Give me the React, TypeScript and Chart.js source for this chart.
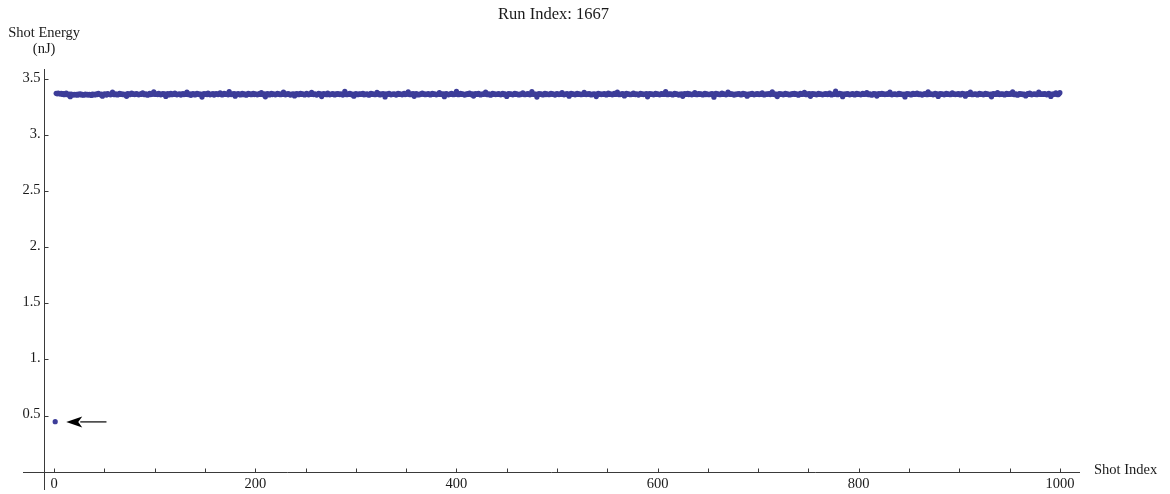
import React, { useEffect, useRef } from "react";
import { Chart, registerables } from "chart.js";

Chart.register(...registerables);

// ---------- chart text ----------
const chartTitle = "Run Index: 1667";
const xAxisTitle = "Shot Index";
const yAxisTitleLines = ["Shot Energy", "(nJ)"];

// ---------- ticks ----------
const xMajorTicks = [0, 200, 400, 600, 800, 1000];
const xMajorTickLabels = ["0", "200", "400", "600", "800", "1000"];
const xMinorTicks = [
  50, 100, 150, 250, 300, 350, 450, 500, 550, 650, 700, 750, 850, 900, 950,
];
const yTicks = [0.5, 1, 1.5, 2, 2.5, 3, 3.5];
const yTickLabels = ["0.5", "1.", "1.5", "2.", "2.5", "3.", "3.5"];

// ---------- axis ranges ----------
const xRange = [-31, 1020];
const yRange = [-0.164, 3.589];
const yAxisCrossesAtX = -10;
const xAxisCrossesAtY = 0;

// ---------- annotation arrow (data coordinates) ----------
const arrowTail = [52, 0.443];
const arrowTip = [12, 0.443];

// ---------- data: shot energy (nJ) for shots 1..1000 ----------
const shotEnergy = [
  0.445,
  3.372,3.368,3.375,3.370,3.366,3.371,3.363,3.369,3.360,3.367,3.374,3.362,3.358,3.365,3.342,3.366,3.361,3.357,3.364,3.359,
  3.362,3.356,3.365,3.361,3.367,3.358,3.363,3.355,3.360,3.366,3.359,3.363,3.357,3.364,3.361,3.353,3.366,3.362,3.358,3.365,
  3.360,3.367,3.372,3.364,3.359,3.366,3.347,3.361,3.368,3.363,3.357,3.370,3.365,3.362,3.359,3.366,3.383,3.363,3.360,3.367,
  3.364,3.358,3.365,3.371,3.362,3.368,3.361,3.366,3.359,3.364,3.345,3.369,3.365,3.360,3.367,3.374,3.363,3.368,3.361,3.366,
  3.370,3.364,3.359,3.366,3.362,3.369,3.377,3.365,3.360,3.367,3.363,3.356,3.366,3.372,3.361,3.368,3.364,3.386,3.366,3.362,
  3.368,3.361,3.373,3.366,3.359,3.364,3.370,3.362,3.367,3.344,3.363,3.369,3.358,3.365,3.371,3.360,3.366,3.362,3.375,3.364,
  3.359,3.366,3.363,3.368,3.357,3.364,3.370,3.361,3.367,3.362,3.382,3.365,3.360,3.367,3.354,3.363,3.369,3.365,3.358,3.366,
  3.372,3.363,3.368,3.360,3.366,3.339,3.364,3.370,3.362,3.367,3.361,3.374,3.365,3.359,3.366,3.363,3.369,3.357,3.364,3.370,
  3.365,3.361,3.367,3.376,3.363,3.358,3.366,3.371,3.362,3.368,3.364,3.359,3.387,3.366,3.361,3.368,3.363,3.370,3.346,3.365,
  3.362,3.369,3.364,3.358,3.366,3.372,3.360,3.367,3.363,3.356,3.365,3.371,3.362,3.368,3.360,3.366,3.373,3.361,3.367,3.364,
  3.359,3.365,3.370,3.362,3.378,3.364,3.360,3.367,3.341,3.363,3.369,3.365,3.358,3.366,3.372,3.361,3.368,3.364,3.359,3.366,
  3.371,3.363,3.368,3.360,3.366,3.362,3.384,3.365,3.359,3.367,3.363,3.370,3.361,3.357,3.366,3.362,3.368,3.349,3.364,3.369,
  3.365,3.360,3.367,3.373,3.362,3.368,3.364,3.358,3.366,3.371,3.363,3.359,3.367,3.362,3.380,3.365,3.361,3.368,3.363,3.357,
  3.366,3.372,3.361,3.367,3.343,3.364,3.369,3.362,3.366,3.360,3.375,3.364,3.359,3.366,3.362,3.369,3.364,3.358,3.367,3.363,
  3.370,3.365,3.361,3.368,3.363,3.357,3.366,3.390,3.364,3.360,3.367,3.362,3.372,3.365,3.359,3.366,3.347,3.363,3.369,3.364,
  3.360,3.367,3.362,3.368,3.364,3.371,3.359,3.365,3.361,3.368,3.363,3.356,3.366,3.373,3.362,3.367,3.364,3.360,3.366,3.381,
  3.363,3.369,3.358,3.365,3.362,3.370,3.364,3.340,3.367,3.361,3.366,3.373,3.363,3.359,3.366,3.362,3.368,3.364,3.357,3.365,
  3.371,3.362,3.367,3.363,3.359,3.366,3.372,3.361,3.368,3.364,3.385,3.365,3.360,3.367,3.362,3.369,3.345,3.364,3.370,3.363,
  3.358,3.366,3.361,3.368,3.374,3.363,3.367,3.360,3.365,3.362,3.369,3.364,3.358,3.366,3.371,3.362,3.368,3.363,3.359,3.366,
  3.364,3.379,3.362,3.367,3.361,3.368,3.342,3.365,3.370,3.363,3.359,3.366,3.362,3.373,3.365,3.360,3.367,3.363,3.389,3.364,
  3.360,3.366,3.371,3.362,3.368,3.364,3.357,3.365,3.361,3.369,3.363,3.375,3.366,3.360,3.367,3.348,3.364,3.369,3.362,3.366,
  3.372,3.363,3.358,3.366,3.362,3.368,3.364,3.383,3.365,3.360,3.367,3.362,3.356,3.365,3.371,3.363,3.368,3.361,3.366,3.362,
  3.369,3.364,3.359,3.366,3.373,3.361,3.367,3.363,3.344,3.365,3.370,3.362,3.368,3.364,3.359,3.366,3.372,3.362,3.367,3.363,
  3.358,3.365,3.361,3.368,3.376,3.364,3.360,3.366,3.362,3.369,3.365,3.359,3.366,3.387,3.363,3.368,3.361,3.366,3.339,3.364,
  3.370,3.362,3.367,3.363,3.358,3.366,3.372,3.361,3.368,3.364,3.360,3.366,3.371,3.363,3.368,3.362,3.357,3.365,3.370,3.364,
  3.361,3.367,3.363,3.378,3.365,3.359,3.366,3.362,3.369,3.364,3.346,3.365,3.371,3.362,3.367,3.363,3.359,3.366,3.373,3.362,
  3.368,3.364,3.360,3.366,3.362,3.381,3.365,3.361,3.367,3.363,3.370,3.364,3.358,3.366,3.362,3.368,3.364,3.343,3.365,3.371,
  3.363,3.368,3.361,3.366,3.362,3.369,3.364,3.358,3.366,3.374,3.362,3.367,3.363,3.359,3.366,3.371,3.362,3.368,3.384,3.364,
  3.360,3.366,3.362,3.369,3.365,3.349,3.366,3.371,3.363,3.368,3.364,3.360,3.366,3.362,3.375,3.365,3.361,3.367,3.363,3.357,
  3.366,3.372,3.363,3.368,3.361,3.366,3.362,3.369,3.341,3.364,3.370,3.362,3.367,3.363,3.359,3.366,3.373,3.362,3.368,3.364,
  3.359,3.365,3.370,3.362,3.367,3.363,3.388,3.365,3.360,3.367,3.362,3.368,3.364,3.358,3.366,3.371,3.362,3.368,3.363,3.357,
  3.365,3.361,3.368,3.345,3.364,3.369,3.362,3.366,3.372,3.361,3.367,3.363,3.359,3.366,3.362,3.379,3.364,3.360,3.366,3.370,
  3.362,3.367,3.363,3.358,3.366,3.372,3.361,3.368,3.364,3.360,3.366,3.362,3.369,3.365,3.338,3.366,3.371,3.363,3.368,3.364,
  3.360,3.366,3.374,3.362,3.368,3.363,3.359,3.366,3.383,3.364,3.370,3.362,3.367,3.363,3.357,3.365,3.361,3.368,3.364,3.369,
  3.363,3.358,3.366,3.371,3.362,3.368,3.364,3.347,3.365,3.360,3.367,3.362,3.373,3.364,3.359,3.366,3.362,3.369,3.365,3.361,
  3.367,3.363,3.376,3.364,3.358,3.366,3.362,3.368,3.364,3.370,3.361,3.366,3.386,3.363,3.367,3.360,3.366,3.343,3.364,3.369,
  3.362,3.368,3.363,3.359,3.366,3.371,3.362,3.367,3.363,3.358,3.365,3.361,3.369,3.364,3.372,3.362,3.367,3.363,3.356,3.366,
  3.371,3.362,3.368,3.364,3.380,3.365,3.360,3.367,3.362,3.369,3.345,3.364,3.370,3.362,3.367,3.363,3.359,3.366,3.373,3.362,
  3.368,3.364,3.359,3.366,3.362,3.369,3.365,3.361,3.367,3.374,3.363,3.358,3.366,3.362,3.368,3.391,3.364,3.360,3.366,3.371,
  3.363,3.368,3.342,3.365,3.361,3.367,3.363,3.370,3.364,3.359,3.366,3.362,3.369,3.364,3.358,3.366,3.372,3.362,3.367,3.363,
  3.359,3.366,3.371,3.362,3.368,3.364,3.378,3.365,3.360,3.367,3.362,3.356,3.365,3.370,3.363,3.368,3.348,3.364,3.369,3.362,
  3.366,3.372,3.363,3.367,3.361,3.366,3.362,3.369,3.364,3.382,3.365,3.359,3.366,3.362,3.368,3.364,3.360,3.366,3.373,3.362,
  3.368,3.363,3.359,3.366,3.340,3.364,3.370,3.362,3.367,3.363,3.358,3.366,3.371,3.362,3.368,3.364,3.375,3.365,3.361,3.367,
  3.363,3.357,3.366,3.362,3.369,3.365,3.360,3.385,3.366,3.362,3.368,3.364,3.359,3.366,3.372,3.361,3.367,3.344,3.364,3.370,
  3.362,3.367,3.363,3.359,3.366,3.371,3.362,3.368,3.364,3.360,3.366,3.377,3.363,3.368,3.361,3.366,3.362,3.369,3.365,3.358,
  3.366,3.371,3.363,3.368,3.346,3.364,3.369,3.362,3.366,3.383,3.364,3.360,3.366,3.362,3.368,3.364,3.358,3.366,3.372,3.362,
  3.367,3.363,3.359,3.366,3.373,3.362,3.368,3.364,3.360,3.366,3.341,3.365,3.370,3.362,3.367,3.363,3.379,3.365,3.361,3.367,
  3.362,3.368,3.364,3.358,3.366,3.371,3.362,3.367,3.363,3.369,3.364,3.386,3.365,3.360,3.367,3.362,3.356,3.365,3.370,3.363,
  3.368,3.361,3.366,3.362,3.349,3.364,3.369,3.362,3.374,3.365,3.359,3.366,3.362,3.368,3.364,3.360,3.366,3.383,3.363,3.368,
  3.362,3.367,3.363,3.370,3.364,3.359,3.366,3.372,3.362,3.344,3.365,3.361,3.368,3.364,3.376,3.365,3.360,3.367,3.378,
];

const POINT_COLOR = "rgb(61, 61, 153)";
const AXIS_COLOR = "#3a3a3a";
const TEXT_COLOR = "#1a1a1a";
const FONT = '"Liberation Serif", "Times New Roman", serif';

const mmaPlugin = {
  id: "mmaAxes",
  beforeDatasetsDraw(chart: any) {
    const { ctx, chartArea, scales } = chart;
    const xs = scales.x;
    const ys = scales.y;
    const ax = Math.round(xs.getPixelForValue(yAxisCrossesAtX)) + 0.5;
    const ay = Math.round(ys.getPixelForValue(xAxisCrossesAtY)) + 0.5;
    ctx.save();
    ctx.strokeStyle = AXIS_COLOR;
    ctx.lineWidth = 1;
    ctx.beginPath();
    ctx.moveTo(chartArea.left, ay);
    ctx.lineTo(chartArea.right, ay);
    ctx.moveTo(ax, chartArea.top);
    ctx.lineTo(ax, chartArea.bottom);
    [...xMajorTicks, ...xMinorTicks].forEach((v) => {
      const px = Math.round(xs.getPixelForValue(v)) + 0.5;
      ctx.moveTo(px, ay);
      ctx.lineTo(px, ay - 4);
    });
    yTicks.forEach((v) => {
      const py = Math.round(ys.getPixelForValue(v)) + 0.5;
      ctx.moveTo(ax, py);
      ctx.lineTo(ax + 4, py);
    });
    ctx.stroke();

    ctx.fillStyle = TEXT_COLOR;
    ctx.font = `14.5px ${FONT}`;
    ctx.textAlign = "center";
    ctx.textBaseline = "alphabetic";
    xMajorTicks.forEach((v, i) => {
      ctx.fillText(xMajorTickLabels[i], xs.getPixelForValue(v), ay + 15);
    });
    ctx.textAlign = "right";
    ctx.textBaseline = "middle";
    yTicks.forEach((v, i) => {
      ctx.fillText(yTickLabels[i], ax - 4, ys.getPixelForValue(v) - 1);
    });
    ctx.restore();
  },
  afterDraw(chart: any) {
    const { ctx, chartArea, scales } = chart;
    const xs = scales.x;
    const ys = scales.y;
    const ax = xs.getPixelForValue(yAxisCrossesAtX);
    const ay = ys.getPixelForValue(xAxisCrossesAtY);
    ctx.save();
    ctx.fillStyle = TEXT_COLOR;
    ctx.textBaseline = "alphabetic";
    // title
    ctx.textAlign = "center";
    ctx.font = `16.5px ${FONT}`;
    ctx.fillText(chartTitle, (chartArea.left + chartArea.right) / 2 + 2, 19);
    // y-axis title
    ctx.font = `14.5px ${FONT}`;
    ctx.fillText(yAxisTitleLines[0], ax, 37);
    ctx.fillText(yAxisTitleLines[1], ax, 53);
    // x-axis title
    ctx.textAlign = "left";
    ctx.fillText(xAxisTitle, chartArea.right + 14, ay + 2.5);

    // arrow
    const tx = xs.getPixelForValue(arrowTail[0]);
    const ty = ys.getPixelForValue(arrowTail[1]);
    const hx = xs.getPixelForValue(arrowTip[0]);
    const hy = ys.getPixelForValue(arrowTip[1]);
    const ang = Math.atan2(hy - ty, hx - tx);
    const headLen = 16;
    const headHalf = 5.5;
    const bx = hx - headLen * Math.cos(ang);
    const by = hy - headLen * Math.sin(ang);
    ctx.strokeStyle = "#000";
    ctx.lineWidth = 1.2;
    ctx.beginPath();
    ctx.moveTo(tx, ty);
    ctx.lineTo(bx + 2 * Math.cos(ang), by + 2 * Math.sin(ang));
    ctx.stroke();
    ctx.fillStyle = "#000";
    ctx.beginPath();
    ctx.moveTo(hx, hy);
    ctx.lineTo(bx - headHalf * Math.sin(ang), by + headHalf * Math.cos(ang));
    ctx.lineTo(bx + 4 * Math.cos(ang), by + 4 * Math.sin(ang));
    ctx.lineTo(bx + headHalf * Math.sin(ang), by - headHalf * Math.cos(ang));
    ctx.closePath();
    ctx.fill();
    ctx.restore();
  },
};

export default function App() {
  const canvasRef = useRef<HTMLCanvasElement | null>(null);

  useEffect(() => {
    const canvas = canvasRef.current;
    if (!canvas) return;
    const points = shotEnergy.map((e, i) => ({ x: i + 1, y: e }));
    const chart = new Chart(canvas, {
      type: "scatter",
      data: {
        datasets: [
          {
            label: "Shot Energy",
            data: points,
            pointRadius: 2.6,
            pointHoverRadius: 2.6,
            pointBorderWidth: 0,
            pointBackgroundColor: POINT_COLOR,
            pointBorderColor: POINT_COLOR,
            showLine: false,
          },
        ],
      },
      options: {
        animation: false,
        responsive: false,
        devicePixelRatio: 1,
        events: [],
        layout: { padding: { left: 23, right: 90, top: 69, bottom: 4 } },
        plugins: {
          legend: { display: false },
          title: { display: false },
          tooltip: { enabled: false },
        },
        scales: {
          x: { type: "linear", min: xRange[0], max: xRange[1], display: false },
          y: { type: "linear", min: yRange[0], max: yRange[1], display: false },
        },
      },
      plugins: [mmaPlugin],
    });
    return () => chart.destroy();
  }, []);

  return (
    <div
      style={{
        position: "fixed",
        left: 0,
        top: 0,
        width: 1170,
        height: 494,
        background: "#fff",
      }}
    >
      <canvas ref={canvasRef} width={1170} height={494} style={{ display: "block" }} />
    </div>
  );
}
